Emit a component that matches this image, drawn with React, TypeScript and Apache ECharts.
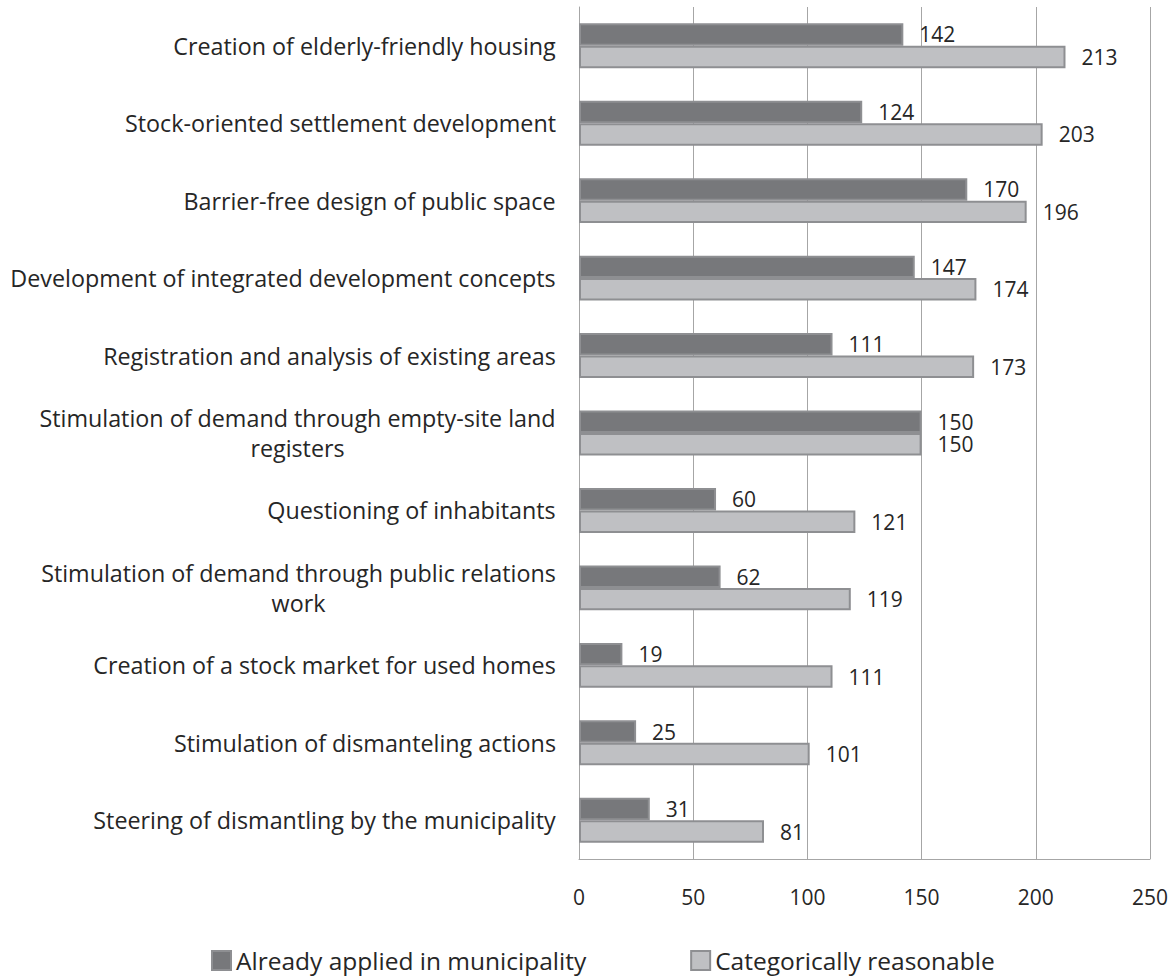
import React, { useEffect, useRef } from "react";
import * as echarts from "echarts";

const categories = [
  "Creation of elderly-friendly housing",
  "Stock-oriented settlement development",
  "Barrier-free design of public space",
  "Development of integrated development concepts",
  "Registration and analysis of existing areas",
  "Stimulation of demand through empty-site land\nregisters",
  "Questioning of inhabitants",
  "Stimulation of demand through public relations\nwork",
  "Creation of a stock market for used homes",
  "Stimulation of dismanteling actions",
  "Steering of dismantling by the municipality",
];

const alreadyApplied = [142, 124, 170, 147, 111, 150, 60, 62, 19, 25, 31];
const categoricallyReasonable = [213, 203, 196, 174, 173, 150, 121, 119, 111, 101, 81];

const seriesNames = ["Already applied in municipality", "Categorically reasonable"];

const FONT = "'Open Sans', sans-serif";
const FS = 21;
const CAT_FS = 23.3;
const LEG_FS = 24.5;

function measure(text: string): number {
  const c = document.createElement("canvas");
  const ctx = c.getContext("2d")!;
  ctx.font = `${CAT_FS}px 'Open Sans'`;
  return ctx.measureText(text).width;
}

export default function App() {
  const ref = useRef<HTMLDivElement>(null);
  useEffect(() => {
    if (!ref.current) return;
    const chart = echarts.init(ref.current, undefined, { renderer: "svg" });
    const rich: Record<string, any> = {};
    categories.forEach((c, i) => {
      const lines = c.split("\n");
      const w = Math.ceil(Math.max(...lines.map(measure)));
      rich["c" + i] = {
        width: w,
        align: "center",
        fontSize: CAT_FS,
        fontFamily: FONT,
        color: "#262626",
        lineHeight: 30,
      };
    });
    chart.setOption({
      animation: false,
      textStyle: { fontFamily: FONT },
      grid: { left: 579, right: 23, top: 7, bottom: 118, containLabel: false },
      legend: {
        top: 948,
        left: 211,
        padding: 0,
        itemWidth: 19,
        itemHeight: 19,
        itemGap: 104,
        icon: "rect",
        textStyle: { fontSize: LEG_FS, color: "#262626", fontFamily: FONT },
        data: seriesNames,
      },
      xAxis: {
        type: "value",
        min: 0,
        max: 250,
        interval: 50,
        axisLine: { show: true, lineStyle: { color: "#a6a6a6", width: 1 } },
        axisTick: { show: false },
        splitLine: { show: true, lineStyle: { color: "#a6a6a6", width: 1 } },
        axisLabel: { fontSize: FS, color: "#262626", margin: 27, fontFamily: FONT },
      },
      yAxis: {
        type: "category",
        inverse: true,
        data: categories,
        axisLine: { show: true, lineStyle: { color: "#a6a6a6", width: 1 } },
        axisTick: { show: false },
        axisLabel: {
          margin: 23,
          fontSize: CAT_FS,
          color: "#262626",
          fontFamily: FONT,
          lineHeight: 30,
          formatter: (v: string, i: number) =>
            v.split("\n").map((l) => `{c${i}|${l}}`).join("\n"),
          rich,
        },
      },
      series: [
        {
          name: seriesNames[0],
          type: "bar",
          data: alreadyApplied,
          barCategoryGap: "42%",
          barGap: "0%",
          itemStyle: { color: "#77787b", borderColor: "#8e8f92", borderWidth: 2 },
          label: {
            show: true,
            position: "right",
            distance: 16,
            fontSize: FS,
            color: "#262626",
            fontFamily: FONT,
          },
        },
        {
          name: seriesNames[1],
          type: "bar",
          data: categoricallyReasonable,
          barCategoryGap: "42%",
          barGap: "0%",
          itemStyle: { color: "#bfc0c3", borderColor: "#8e8f92", borderWidth: 2 },
          label: {
            show: true,
            position: "right",
            distance: 16,
            fontSize: FS,
            color: "#262626",
            fontFamily: FONT,
          },
        },
      ],
    });
    return () => chart.dispose();
  }, []);
  return <div ref={ref} style={{ width: 1173, height: 977, position: "absolute", left: 0, top: 0 }} />;
}
